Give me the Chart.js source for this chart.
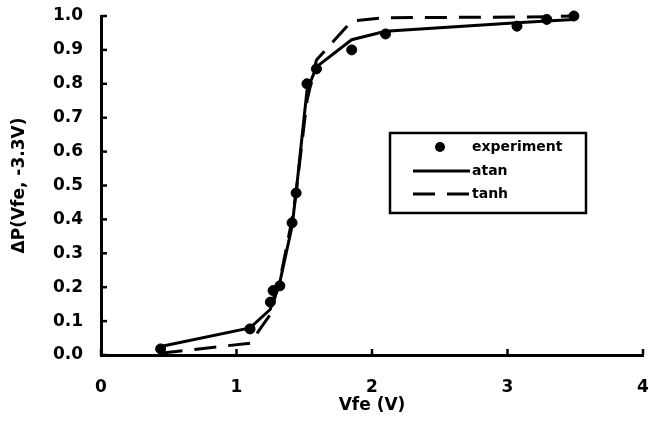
<!DOCTYPE html>
<html>
<head>
<meta charset="utf-8">
<script src="https://cdn.jsdelivr.net/npm/chart.js@4.4.0/dist/chart.umd.min.js"></script>
<style>
  html, body { margin: 0; padding: 0; background: #fff; }
  #wrap { width: 649px; height: 422px; }
</style>
</head>
<body>
<div id="wrap"><canvas id="chart" width="649" height="422"></canvas></div>
<script>
// Vfe (V) values where the measurements were taken
const vfe = [0.44, 1.10, 1.25, 1.27, 1.32, 1.41, 1.44, 1.52, 1.59, 1.85, 2.10, 3.07, 3.29, 3.49];
// measured delta P
const experiment = [0.018, 0.077, 0.156, 0.190, 0.204, 0.390, 0.478, 0.800, 0.844, 0.900, 0.947, 0.970, 0.990, 1.000];
// fits
const atanFit = [0.025, 0.080, 0.135, 0.165, 0.215, 0.380, 0.480, 0.780, 0.850, 0.930, 0.955, 0.980, 0.985, 0.990];
const tanhFit = [0.005, 0.035, 0.120, 0.150, 0.220, 0.400, 0.480, 0.750, 0.870, 0.985, 0.995, 0.997, 0.998, 1.000];
const xTicks = [0, 1, 2, 3, 4];
const yTicks = [0.0, 0.1, 0.2, 0.3, 0.4, 0.5, 0.6, 0.7, 0.8, 0.9, 1.0];

const FONT = "'DejaVu Sans', sans-serif";

const pts = (ys) => vfe.map((x, i) => ({ x: x, y: ys[i] }));

// no automatic label padding, the frame is fixed
const noPad = s => {
    s.paddingLeft = 0; s.paddingRight = 0;
    s.paddingTop = 0; s.paddingBottom = 0;
};

// inward tick marks like the original plot
const innerTicks = {
    id: 'innerTicks',
    afterDatasetsDraw(chart) {
        const { ctx, chartArea, scales } = chart;
        ctx.save();
        ctx.strokeStyle = '#000';
        ctx.lineWidth = 2.5;
        yTicks.forEach(v => {
            const y = scales.y.getPixelForValue(v);
            ctx.beginPath();
            ctx.moveTo(chartArea.left, y);
            ctx.lineTo(chartArea.left + 6, y);
            ctx.stroke();
        });
        xTicks.forEach(v => {
            const x = scales.x.getPixelForValue(v);
            ctx.beginPath();
            ctx.moveTo(x, chartArea.bottom);
            ctx.lineTo(x, chartArea.bottom - 6);
            ctx.stroke();
        });
        ctx.restore();
    }
};

// boxed legend inside the plot
const boxLegend = {
    id: 'boxLegend',
    afterDraw(chart) {
        const ctx = chart.ctx;
        const left = 390, top = 133, w = 196, h = 80;
        ctx.save();
        ctx.fillStyle = '#fff';
        ctx.fillRect(left, top, w, h);
        ctx.strokeStyle = '#000';
        ctx.lineWidth = 2.5;
        ctx.strokeRect(left, top, w, h);
        ctx.font = 'bold 14px ' + FONT;
        ctx.fillStyle = '#000';
        ctx.textBaseline = 'middle';
        const rows = [147, 171, 194];
        chart.data.datasets.forEach((ds, i) => {
            const y = rows[i];
            if (i === 0) {
                ctx.beginPath();
                ctx.arc(440, y, 5, 0, Math.PI * 2);
                ctx.fill();
            } else {
                ctx.beginPath();
                ctx.lineWidth = 3;
                ctx.setLineDash(ds.borderDash || []);
                ctx.moveTo(413, y);
                ctx.lineTo(470, y);
                ctx.stroke();
                ctx.setLineDash([]);
            }
            ctx.fillText(ds.label, 472, y);
        });
        ctx.restore();
    }
};

new Chart(document.getElementById('chart'), {
    type: 'scatter',
    data: {
        datasets: [
            {
                label: 'experiment',
                data: pts(experiment),
                showLine: false,
                pointRadius: 5,
                pointBackgroundColor: '#000',
                pointBorderColor: '#000',
                order: 0
            },
            {
                label: 'atan',
                data: pts(atanFit),
                showLine: true,
                borderColor: '#000',
                borderWidth: 3,
                pointRadius: 0,
                order: 1
            },
            {
                label: 'tanh',
                data: pts(tanhFit),
                showLine: true,
                borderColor: '#000',
                borderWidth: 3,
                borderDash: [22, 12],
                pointRadius: 0,
                order: 2
            }
        ]
    },
    options: {
        responsive: false,
        animation: false,
        devicePixelRatio: 1,
        clip: false,
        layout: { padding: { top: 16, right: 4, left: 0, bottom: 0 } },
        plugins: {
            legend: { display: false },
            tooltip: { enabled: false }
        },
        scales: {
            x: {
                type: 'linear',
                min: 0,
                max: 4,
                afterFit: s => { s.height = 67; noPad(s); },
                afterBuildTicks: s => { s.ticks = xTicks.map(v => ({ value: v })); },
                grid: { display: false, drawTicks: false },
                border: { display: true, color: '#000', width: 3 },
                ticks: {
                    color: '#000',
                    padding: 22,
                    font: { family: FONT, size: 17, weight: 'bold' },
                    callback: v => String(v)
                },
                title: {
                    display: true,
                    text: 'Vfe (V)',
                    color: '#000',
                    font: { family: FONT, size: 17, weight: 'bold' },
                    padding: { top: 0, bottom: 6 }
                }
            },
            y: {
                type: 'linear',
                min: 0,
                max: 1,
                afterFit: s => { s.width = 101; noPad(s); },
                afterBuildTicks: s => { s.ticks = yTicks.map(v => ({ value: v })); },
                grid: { display: false, drawTicks: false },
                border: { display: true, color: '#000', width: 3 },
                ticks: {
                    color: '#000',
                    padding: 18,
                    font: { family: FONT, size: 17, weight: 'bold' },
                    callback: v => Number(v).toFixed(1)
                },
                title: {
                    display: true,
                    text: 'ΔP(Vfe, -3.3V)',
                    color: '#000',
                    font: { family: FONT, size: 17, weight: 'bold' },
                    padding: { top: 9, bottom: 0 }
                }
            }
        }
    },
    plugins: [innerTicks, boxLegend]
});
</script>
</body>
</html>
